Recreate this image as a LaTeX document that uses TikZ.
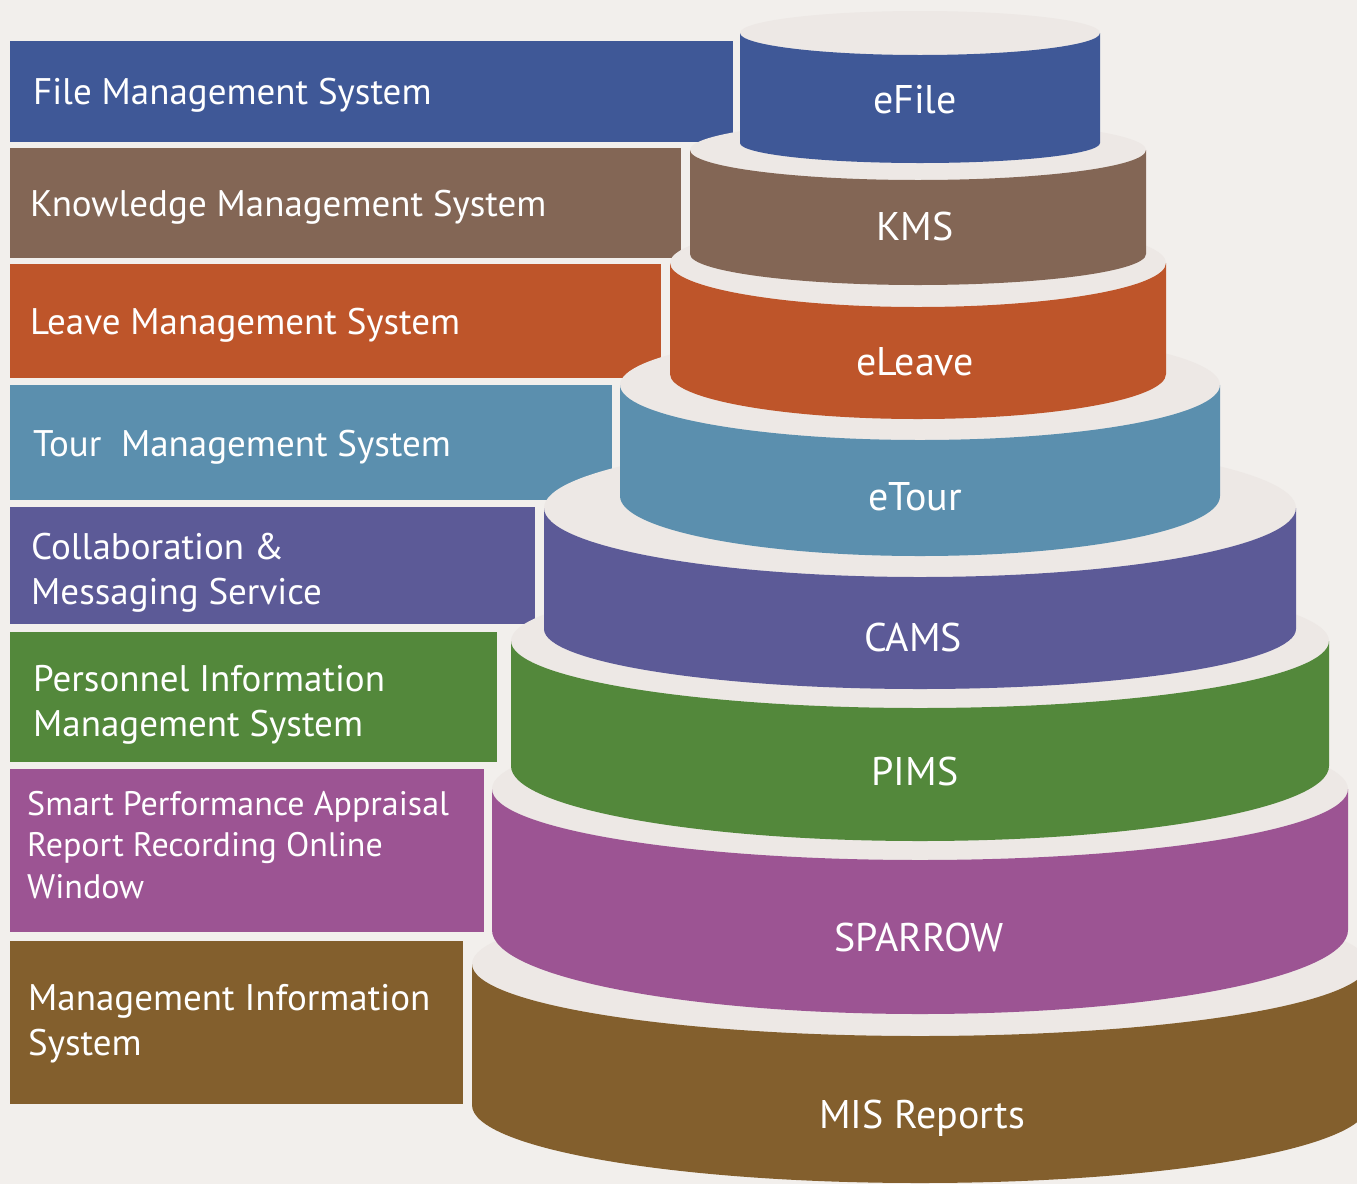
\documentclass[tikz,border=0pt]{standalone}
\usepackage{fontspec}
\setmainfont{PT Sans}
\usepackage{tikz}
\definecolor{bgc}{HTML}{F2EFEC}
\definecolor{topc}{HTML}{EDE8E5}
\definecolor{cfile}{HTML}{3F5897}
\definecolor{ckms}{HTML}{836655}
\definecolor{cleave}{HTML}{BE552A}
\definecolor{ctour}{HTML}{5B8FAE}
\definecolor{ccams}{HTML}{5C5A97}
\definecolor{cpims}{HTML}{53883B}
\definecolor{cspar}{HTML}{9C5493}
\definecolor{cmis}{HTML}{835F2D}
\tikzset{%
	sysbox/.style    = {anchor=base west, inner sep=0pt, text=white, font=\fontsize{37}{45}\selectfont},
	sysmulti/.style  = {anchor=north west, inner sep=0pt, align=left, text=white, font=\fontsize{37}{45}\selectfont},
	tierlabel/.style = {inner sep=0pt, text=white, font=\fontsize{40}{48}\selectfont},
}

\begin{document}
\begin{tikzpicture}[x=1pt,y=-1pt]
	
	\useasboundingbox (0,0) rectangle (1357,1184);
	\fill[bgc] (0,0) rectangle (1357,1184);
	
	% boxes on the left
	\fill[cfile]  (10,41)  rectangle (733,142);
	\fill[ckms]   (10,148) rectangle (681,258);
	\fill[cleave] (10,264) rectangle (661,378);
	\fill[ctour]  (10,385) rectangle (612,500);
	\fill[ccams]  (10,507) rectangle (535,624);
	\fill[cpims]  (10,632) rectangle (497,762);
	\fill[cspar]  (10,769) rectangle (484,932);
	\fill[cmis]   (10,941) rectangle (463,1104);
	
	\node[sysbox] (fms) at (33,104) {File Management System};
	\node[sysbox] (kms) at (30,216) {Knowledge Management System};
	\node[sysbox] (lms) at (30,334) {Leave Management System};
	\node[sysbox] (tms) at (33,456) {Tour\ \ Management System};
	\node[sysmulti] (cms) at (31,533) {Collaboration \&\\Messaging Service};
	\node[sysmulti] (pis) at (33,665) {Personnel Information\\Management System};
	\node[sysmulti, font=\fontsize{34}{41.5}\selectfont] (spa) at (27,791) {Smart Performance Appraisal\\Report Recording Online\\Window};
	\node[sysmulti] (mis) at (28,984) {Management Information\\System};
	
	% the stack, bottom tier first
	\fill[topc] (920,964) ellipse [x radius=448, y radius=72];
	\fill[cmis] (472,964) -- (472,1105) arc[start angle=180, end angle=0, x radius=448, y radius=78] -- (1368,964) arc[start angle=0, end angle=180, x radius=448, y radius=72] -- cycle;
	\node[tierlabel] (misr) at (922,1118) {MIS Reports};
	
	\fill[topc] (920,789) ellipse [x radius=428, y radius=71];
	\fill[cspar] (492,789) -- (492,930) arc[start angle=180, end angle=0, x radius=428, y radius=84] -- (1348,789) arc[start angle=0, end angle=180, x radius=428, y radius=71] -- cycle;
	\node[tierlabel] (sparrow) at (919,937) {SPARROW};
	
	\fill[topc] (920,641) ellipse [x radius=409, y radius=67];
	\fill[cpims] (511,641) -- (511,766) arc[start angle=180, end angle=0, x radius=409, y radius=75] -- (1329,641) arc[start angle=0, end angle=180, x radius=409, y radius=67] -- cycle;
	\node[tierlabel] (pims) at (915,771) {PIMS};
	
	\fill[topc] (920,508) ellipse [x radius=376, y radius=69];
	\fill[ccams] (544,508) -- (544,629) arc[start angle=180, end angle=0, x radius=376, y radius=60] -- (1296,508) arc[start angle=0, end angle=180, x radius=376, y radius=69] -- cycle;
	\node[tierlabel] (cams) at (913,637) {CAMS};
	
	\fill[topc] (920,385) ellipse [x radius=300, y radius=55];
	\fill[ctour] (620,385) -- (620,496) arc[start angle=180, end angle=0, x radius=300, y radius=60] -- (1220,385) arc[start angle=0, end angle=180, x radius=300, y radius=55] -- cycle;
	\node[tierlabel] (etour) at (915,497) {eTour};
	
	\fill[topc] (918,263) ellipse [x radius=248, y radius=44];
	\fill[cleave] (670,263) -- (670,374) arc[start angle=180, end angle=0, x radius=248, y radius=45] -- (1166,263) arc[start angle=0, end angle=180, x radius=248, y radius=44] -- cycle;
	\node[tierlabel] (eleave) at (915,362) {eLeave};
	
	\fill[topc] (918,150) ellipse [x radius=228, y radius=30];
	\fill[ckms] (690,150) -- (690,254) arc[start angle=180, end angle=0, x radius=228, y radius=31] -- (1146,150) arc[start angle=0, end angle=180, x radius=228, y radius=30] -- cycle;
	\node[tierlabel] (kmsr) at (915,226) {KMS};
	
	\fill[topc] (920,33) ellipse [x radius=180, y radius=22];
	\fill[cfile] (740,33) -- (740,143) arc[start angle=180, end angle=0, x radius=180, y radius=20] -- (1100,33) arc[start angle=0, end angle=180, x radius=180, y radius=22] -- cycle;
	\node[tierlabel] (efile) at (915,100) {eFile};
	
\end{tikzpicture}
\end{document}
